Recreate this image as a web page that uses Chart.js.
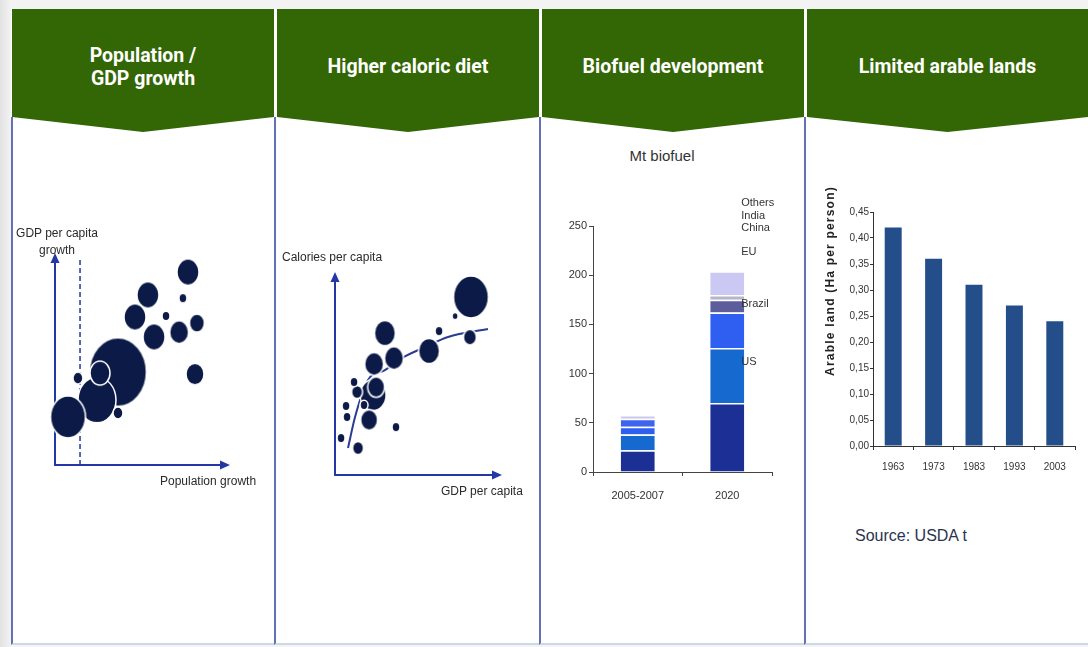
<!DOCTYPE html>
<html>
<head>
<meta charset="utf-8">
<title>Drivers of food demand</title>
<script src="https://cdn.jsdelivr.net/npm/chart.js@4.4.1/dist/chart.umd.min.js"></script>
<style>
  body { margin: 0; width: 1088px; height: 647px; overflow: hidden; position: relative;
         background: linear-gradient(to right, #e2e2e2, #f3f3f3 11px); font-family: 'Liberation Sans', Arial, sans-serif; }
  .topband { position: absolute; left: 11px; right: 0; top: 9px; height: 112px; background: #fff; }
  .panel { position: absolute; top: 117px; height: 526px; background: #fff; border-left: 2px solid #6271b6; border-bottom: 2px solid #cdd7ea; }
  .head { position: absolute; top: 9px; height: 123px; box-sizing: border-box; padding-bottom: 8px;
          background: #336604; clip-path: polygon(0 0, 100% 0, 100% 108px, 50% 123px, 0 108px);
          display: flex; align-items: center; justify-content: center; text-align: center;
          color: #fff; font: bold 19.5px Roboto, 'Liberation Sans', sans-serif; line-height: 23px; }
  .note { position: absolute; font-size: 12px; line-height: 14px; color: #2a2a2a; white-space: nowrap; }
  canvas { position: absolute; }
</style>
</head>
<body>
<div class="topband"></div>

<div class="panel" style="left:11px; width:262px;"></div>
<div class="panel" style="left:274px; width:264px;"></div>
<div class="panel" style="left:539px; width:264px;"></div>
<div class="panel" style="left:804px; width:284px;"></div>

<div class="head" style="left:12px; width:262px;">Population /<br>GDP growth</div>
<div class="head" style="left:277px; width:262px;">Higher caloric diet</div>
<div class="head" style="left:542px; width:262px;">Biofuel development</div>
<div class="head" style="left:807px; width:281px;">Limited arable lands</div>

<canvas id="popChart" width="220" height="240" style="left:20px; top:240px;"></canvas>
<canvas id="calChart" width="220" height="245" style="left:300px; top:250px;"></canvas>
<canvas id="fuelChart" width="235" height="316" style="left:545px; top:190px;"></canvas>
<canvas id="landChart" width="259" height="272" style="left:821px; top:204px;"></canvas>

<div class="note" style="left:7px; top:225px; width:100px; text-align:center; line-height:17px;">GDP per capita<br>growth</div>
<div class="note" style="left:160px; top:474px;">Population growth</div>
<div class="note" style="left:282px; top:250px;">Calories per capita</div>
<div class="note" style="left:441px; top:484px;">GDP per capita</div>
<div class="note" style="left:612px; top:147px; width:100px; text-align:center; font-size:15px; line-height:18px; color:#333;">Mt biofuel</div>
<div class="note" style="left:720px; top:274px; width:220px; text-align:center; transform:rotate(-90deg); font-weight:bold; font-size:12px; letter-spacing:1.2px; color:#222;">Arable land (Ha per person)</div>
<div class="note" style="left:855px; top:527px; font-size:16px; line-height:18px; color:#2c3350;">Source: USDA t</div>

<script>
// panel 1 - population growth vs GDP per capita growth (schematic, 0-100 units)
const popX = [36, 24, 7.4, 25.7, 13.1, 36, 76, 53.1, 73.1, 45.7, 63.4, 81.1, 56.6, 70.9, 80];
const popY = [44.3, 31, 22.9, 43.8, 41.4, 24.8, 91.9, 81, 79.5, 70.5, 71, 67.6, 61, 63.3, 43.3];
const popR = [28.5, 19, 17.5, 10, 5, 5, 11, 11, 4, 11, 4, 7.5, 11, 9.5, 9];
const popDashX = 14.3;

// panel 2 - GDP per capita vs calories per capita
const calX = [81.4, 22.8, 29.9, 62.3, 80.8, 56.3, 35.3, 23.4, 24.6, 13.2, 11.4, 17.4, 20.4, 6.6, 7.2, 36.5, 3.6, 13.8, 71.9];
const calY = [87.7, 39.4, 69.9, 70.9, 67.9, 61.1, 57.6, 54.7, 43.3, 40.9, 45.8, 34.5, 27.1, 34, 28.6, 23.6, 18.2, 13.3, 78.3];
const calR = [17.5, 13, 10.5, 4, 6.5, 10.5, 9.5, 9.5, 8.5, 5.5, 4, 4, 8.5, 4, 4, 4, 4, 5.5, 3];
const trendX = [7.8, 12, 19.8, 29.9, 40, 53.9, 67.7, 91.6];
const trendY = [13.3, 28.6, 46.8, 51.7, 57.6, 63, 68, 71.9];

// panel 3 - biofuel, Mt
const fuelPeriods = ['2005-2007', '2020'];
const fuelNames = ['US', 'Brazil', 'EU', 'China', 'India', 'Others'];
const usFuel = [22, 70];
const brazilFuel = [16, 56];
const euFuel = [8, 36];
const chinaFuel = [8, 13];
const indiaFuel = [1, 5];
const othersFuel = [3, 24];
const fuelTicks = [0, 50, 100, 150, 200, 250];

// panel 4 - arable land, ha per person
const landYears = ['1963', '1973', '1983', '1993', '2003'];
const arableLand = [0.42, 0.36, 0.31, 0.27, 0.24];

const axisBlue = '#2338a6';
const bubbleNavy = '#0c1a47';
const darkText = '#333';

Chart.defaults.font.family = "'Liberation Sans', Arial, sans-serif";
Chart.defaults.animation = false;
Chart.defaults.events = [];
Chart.defaults.plugins.legend.display = false;
Chart.defaults.plugins.tooltip.enabled = false;

// the bubbles in the picture are a bit taller than wide
function ellipseSprite(r) {
    const rx = r, ry = r * 1.2, pad = 2;
    const c = document.createElement('canvas');
    c.width = Math.ceil(2 * rx + 2 * pad);
    c.height = Math.ceil(2 * ry + 2 * pad);
    const g = c.getContext('2d');
    g.beginPath();
    g.ellipse(c.width / 2, c.height / 2, rx, ry, 0, 0, Math.PI * 2);
    g.fillStyle = bubbleNavy;
    g.fill();
    g.lineWidth = 1.5;
    g.strokeStyle = '#fff';
    g.stroke();
    return c;
}

// axes with arrowheads, drawn under the bubbles
const arrowAxes = {
    id: 'arrowAxes',
    beforeDatasetsDraw(chart) {
        const ctx = chart.ctx;
        const x0 = chart.scales.x.getPixelForValue(chart.scales.x.min);
        const x1 = chart.scales.x.getPixelForValue(chart.scales.x.max);
        const y0 = chart.scales.y.getPixelForValue(chart.scales.y.min);
        const y1 = chart.scales.y.getPixelForValue(chart.scales.y.max);
        ctx.save();
        ctx.strokeStyle = axisBlue;
        ctx.fillStyle = axisBlue;
        ctx.lineWidth = 2;
        ctx.beginPath();
        ctx.moveTo(x0, y1 + 8);
        ctx.lineTo(x0, y0);
        ctx.lineTo(x1 - 8, y0);
        ctx.stroke();
        ctx.beginPath();
        ctx.moveTo(x0, y1);
        ctx.lineTo(x0 - 4.5, y1 + 10);
        ctx.lineTo(x0 + 4.5, y1 + 10);
        ctx.fill();
        ctx.beginPath();
        ctx.moveTo(x1, y0);
        ctx.lineTo(x1 - 10, y0 - 4.5);
        ctx.lineTo(x1 - 10, y0 + 4.5);
        ctx.fill();
        ctx.restore();
    }
};

function bubblePoints(xs, ys, rs) {
    return xs.map((x, i) => ({ x: x, y: ys[i], r: rs[i] }));
}

function schemeScales(yMax) {
    return {
        x: { type: 'linear', min: 0, max: 100, display: false },
        y: { type: 'linear', min: 0, max: yMax, display: false }
    };
}

new Chart(document.getElementById('popChart'), {
    type: 'bubble',
    data: {
        datasets: [{
            type: 'bubble',
            data: bubblePoints(popX, popY, popR),
            pointStyle: popR.map(ellipseSprite),
            clip: false,
            order: 1
        }, {
            type: 'line',
            data: [{ x: popDashX, y: 0 }, { x: popDashX, y: 99 }],
            borderColor: axisBlue,
            borderWidth: 1.5,
            borderDash: [5, 3],
            pointRadius: 0,
            order: 2
        }]
    },
    options: {
        responsive: false,
        layout: { autoPadding: false, padding: { left: 35, top: 13, right: 10, bottom: 15 } },
        scales: schemeScales(101)
    },
    plugins: [arrowAxes]
});

new Chart(document.getElementById('calChart'), {
    type: 'bubble',
    data: {
        datasets: [{
            type: 'bubble',
            data: bubblePoints(calX, calY, calR),
            pointStyle: calR.map(ellipseSprite),
            clip: false,
            order: 1
        }, {
            type: 'line',
            data: trendX.map((x, i) => ({ x: x, y: trendY[i] })),
            borderColor: '#2b3c90',
            borderWidth: 2,
            pointRadius: 0,
            cubicInterpolationMode: 'monotone',
            order: 2
        }]
    },
    options: {
        responsive: false,
        layout: { autoPadding: false, padding: { left: 35, top: 22, right: 18, bottom: 20 } },
        scales: schemeScales(100)
    },
    plugins: [arrowAxes]
});

// series names written beside the 2020 bar
const stackLabelAt = [112, 171, 224, 248, 260, 273];
const stackNames = {
    id: 'stackNames',
    afterDatasetsDraw(chart) {
        const ctx = chart.ctx;
        const x = chart.scales.x.getPixelForValue(1) + 14;
        ctx.save();
        ctx.fillStyle = darkText;
        ctx.font = "11px 'Liberation Sans', Arial, sans-serif";
        ctx.textBaseline = 'middle';
        fuelNames.forEach((name, i) => {
            ctx.fillText(name, x, chart.scales.y.getPixelForValue(stackLabelAt[i]));
        });
        ctx.restore();
    }
};

const fuelColors = ['#1b2f95', '#1569cf', '#2e5ff0', ['#3c64ee', '#5b5d9c'], '#b6b6ca', '#cbc9f4'];
const fuelSeries = [usFuel, brazilFuel, euFuel, chinaFuel, indiaFuel, othersFuel];

new Chart(document.getElementById('fuelChart'), {
    type: 'bar',
    data: {
        labels: fuelPeriods,
        datasets: fuelSeries.map((values, i) => ({
            label: fuelNames[i],
            data: values,
            backgroundColor: fuelColors[i],
            borderColor: '#fff',
            borderWidth: { top: 1.5, left: 0, right: 0, bottom: 0 },
            borderSkipped: false,
            barPercentage: 0.38,
            categoryPercentage: 1
        }))
    },
    options: {
        responsive: false,
        layout: { padding: { top: 36, right: 8, left: 0, bottom: 0 } },
        scales: {
            x: {
                stacked: true,
                grid: { drawOnChartArea: false, tickLength: 4, color: '#444' },
                border: { color: '#444' },
                ticks: { color: darkText, font: { size: 11 }, padding: 13 },
                afterFit(scale) { scale.height = 34; }
            },
            y: {
                stacked: true,
                min: 0,
                max: 250,
                grid: { drawOnChartArea: false, tickLength: 4, color: '#444' },
                border: { color: '#444' },
                afterBuildTicks(scale) { scale.ticks = fuelTicks.map(v => ({ value: v })); },
                ticks: { color: darkText, font: { size: 11 }, padding: 2 },
                afterFit(scale) { scale.width = 48; }
            }
        }
    },
    plugins: [stackNames]
});

const narrowFont = "'Liberation Sans Narrow', 'Liberation Sans', Arial, sans-serif";

new Chart(document.getElementById('landChart'), {
    type: 'bar',
    data: {
        labels: landYears,
        datasets: [{
            data: arableLand,
            backgroundColor: '#234e8a',
            barPercentage: 0.42,
            categoryPercentage: 1
        }]
    },
    options: {
        responsive: false,
        layout: { padding: { top: 8, right: 5, left: 0, bottom: 0 } },
        scales: {
            x: {
                grid: { drawOnChartArea: false, tickLength: 4, color: '#333' },
                border: { color: '#333' },
                ticks: { color: darkText, font: { size: 10, family: narrowFont }, padding: 11 },
                afterFit(scale) { scale.height = 30; }
            },
            y: {
                min: 0,
                max: 0.45,
                grid: { drawOnChartArea: false, tickLength: 3, color: '#333' },
                border: { color: '#333' },
                ticks: {
                    stepSize: 0.05,
                    color: darkText,
                    padding: 1,
                    font: { size: 10, family: narrowFont },
                    callback: v => v.toFixed(2).replace('.', ',')
                },
                afterFit(scale) { scale.width = 52; }
            }
        }
    }
});
</script>
</body>
</html>
